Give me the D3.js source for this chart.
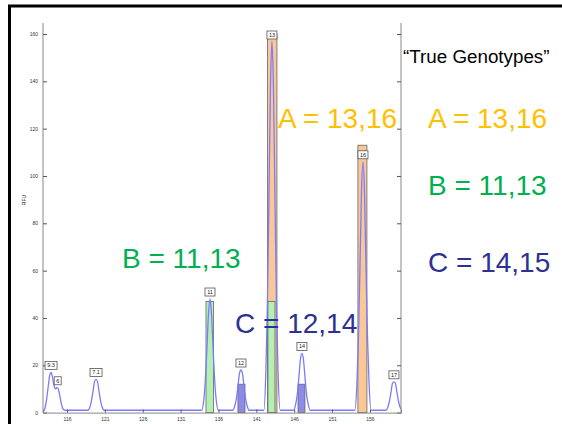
<!DOCTYPE html>
<html>
<head>
<meta charset="utf-8">
<script src="https://d3js.org/d3.v7.min.js"></script>
<style>
body { margin: 0; background: #fff; font-family: "Liberation Sans", Arial, sans-serif; }
.tick text { font-size: 5px; fill: #333; }
</style>
</head>
<body>
<script>
var width = 562, height = 424;

// electropherogram trace, [size bp, RFU]
var trace = [
    [112.83, 0.3], [113.1, 2], [113.3, 5.5], [113.5, 10.5], [113.7, 15.5], [113.89, 17],
    [114.08, 15], [114.28, 11.5], [114.48, 10], [114.65, 10.5], [114.8, 10.3], [115.0, 8],
    [115.2, 4.5], [115.4, 2], [115.7, 1],
    [118.75, 1], [119.03, 2.5], [119.23, 5], [119.43, 9], [119.63, 13], [119.83, 14],
    [120.03, 13], [120.23, 9], [120.43, 5], [120.63, 2.5], [120.9, 1],
    [133.8, 1], [134.08, 6], [134.28, 14.5], [134.48, 27.5], [134.68, 41.5], [134.88, 48],
    [135.08, 41.5], [135.28, 27.5], [135.48, 14.5], [135.68, 6], [135.98, 1],
    [137.9, 1], [138.17, 3], [138.37, 6], [138.57, 11], [138.77, 16.5], [138.97, 18],
    [139.17, 16.5], [139.37, 11], [139.57, 6], [139.77, 3], [140.05, 1],
    [142.0, 1], [142.26, 18], [142.46, 46], [142.66, 90], [142.86, 137], [143.06, 157],
    [143.26, 137], [143.46, 90], [143.66, 46], [143.86, 18], [144.15, 1],
    [145.95, 1], [146.22, 4], [146.42, 8], [146.62, 15], [146.82, 22.5], [147.02, 25],
    [147.22, 22.5], [147.42, 15], [147.62, 8], [147.82, 4], [148.1, 1],
    [154.0, 1], [154.28, 12.5], [154.48, 31.5], [154.68, 61], [154.88, 93], [155.08, 106],
    [155.28, 93], [155.48, 61], [155.68, 31.5], [155.88, 12.5], [156.15, 1],
    [158.1, 1], [158.37, 2.4], [158.57, 4.8], [158.77, 8.4], [158.97, 12.3], [159.17, 13],
    [159.37, 12.3], [159.57, 8.4], [159.77, 4.8], [159.97, 2.4], [160.1, 1.5]
];

// allele calls: label, size, apex RFU
var alleles = ["9.3", "6", "7.1", "11", "12", "13", "14", "16", "17"];
var alleleSize = [113.89, 114.77, 119.83, 134.88, 138.97, 143.06, 147.02, 155.08, 159.17];
var alleleRfu = [17, 10.5, 14, 48, 18, 157, 25, 106, 13];

// contributor bars: person, from, to, height
var barPerson = ["A", "B", "B", "C", "A", "C"];
var barFrom = [142.47, 142.53, 134.35, 138.57, 154.41, 146.5];
var barTo = [143.72, 143.46, 135.34, 139.5, 155.6, 147.42];
var barHeight = [160, 47, 47, 12, 113, 12];

var personColor = { A: "#fac896", B: "#b4f0b4", C: "#8c8ce6" };

var xTicks = [116, 121, 126, 131, 136, 141, 146, 151, 156];
var yTicks = [0, 20, 40, 60, 80, 100, 120, 140, 160];

var svg = d3.select("body").append("svg")
    .attr("width", width)
    .attr("height", height);

svg.append("rect")
    .attr("x", 9.5).attr("y", 6)
    .attr("width", 600).attr("height", 460)
    .attr("fill", "none").attr("stroke", "#000").attr("stroke-width", 3);

var x = d3.scaleLinear().domain([112.83, 160.1]).range([43, 401]);
var y = d3.scaleLinear().domain([0, 160]).range([412.6, 34]);

var plot = svg.append("g");

// bars first, trace on top
barPerson.forEach(function(p, i) {
    plot.append("rect")
        .attr("x", x(barFrom[i]))
        .attr("y", y(barHeight[i]))
        .attr("width", x(barTo[i]) - x(barFrom[i]))
        .attr("height", y(0) - y(barHeight[i]))
        .attr("fill", personColor[p])
        .attr("stroke", "#666")
        .attr("stroke-width", 0.8);
});

var line = d3.line()
    .x(function(d) { return x(d[0]); })
    .y(function(d) { return y(d[1]); })
    .curve(d3.curveMonotoneX);

plot.append("path")
    .datum(trace)
    .attr("d", line)
    .attr("fill", "none")
    .attr("stroke", "#7b7bff")
    .attr("stroke-width", 1.3);

// axes
var axL = svg.append("g").attr("transform", "translate(43,0)")
    .call(d3.axisRight(y).tickValues(yTicks).tickSize(4).tickFormat(d3.format("d")));
axL.selectAll("text").attr("x", -5).attr("text-anchor", "end");
var axR = svg.append("g").attr("transform", "translate(401,0)")
    .call(d3.axisLeft(y).tickValues(yTicks).tickSize(4).tickFormat(""));
var axB = svg.append("g").attr("transform", "translate(0,412.6)")
    .call(d3.axisTop(x).tickValues(xTicks).tickSize(3).tickFormat(d3.format("d")));
axB.selectAll("text").attr("y", 8);
[axL, axR, axB].forEach(function(a) {
    a.select(".domain").attr("stroke", "#888");
    a.selectAll(".tick line").attr("stroke", "#555");
});
axL.select(".domain").attr("d", "M0,23V412.6");
axR.select(".domain").attr("d", "M0,23V412.6");

svg.append("text")
    .attr("transform", "translate(26,200) rotate(-90)")
    .attr("text-anchor", "middle")
    .attr("font-size", 5)
    .text("RFU");

// allele label boxes
alleles.forEach(function(a, i) {
    var cx = x(alleleSize[i]);
    var top = Math.max(y(alleleRfu[i]) - 11, 31);
    var w = a.length > 2 ? 12 : (a.length > 1 ? 10 : 7);
    svg.append("rect")
        .attr("x", cx - w / 2).attr("y", top)
        .attr("width", w).attr("height", 8)
        .attr("fill", "#fff").attr("stroke", "#555").attr("stroke-width", 0.8);
    svg.append("text")
        .attr("x", cx).attr("y", top + 6)
        .attr("text-anchor", "middle")
        .attr("font-size", 5.5)
        .attr("fill", "#222")
        .text(a);
});

// annotations
var notes = [
    ["A = 13,16", 278, 128, "#ffc000"],
    ["B = 11,13", 122, 268, "#00b050"],
    ["C = 12,14", 235, 333, "#2e3192"],
    ["A = 13,16", 428, 128, "#ffc000"],
    ["B = 11,13", 428, 195, "#00b050"],
    ["C = 14,15", 428, 272, "#2e3192"]
];
notes.forEach(function(n) {
    svg.append("text")
        .attr("x", n[1]).attr("y", n[2])
        .attr("font-size", 28)
        .attr("fill", n[3])
        .text(n[0]);
});
svg.append("text")
    .attr("x", 403).attr("y", 63)
    .attr("font-size", 18.8)
    .attr("fill", "#000")
    .text("\u201CTrue Genotypes\u201D");
</script>
</body>
</html>
